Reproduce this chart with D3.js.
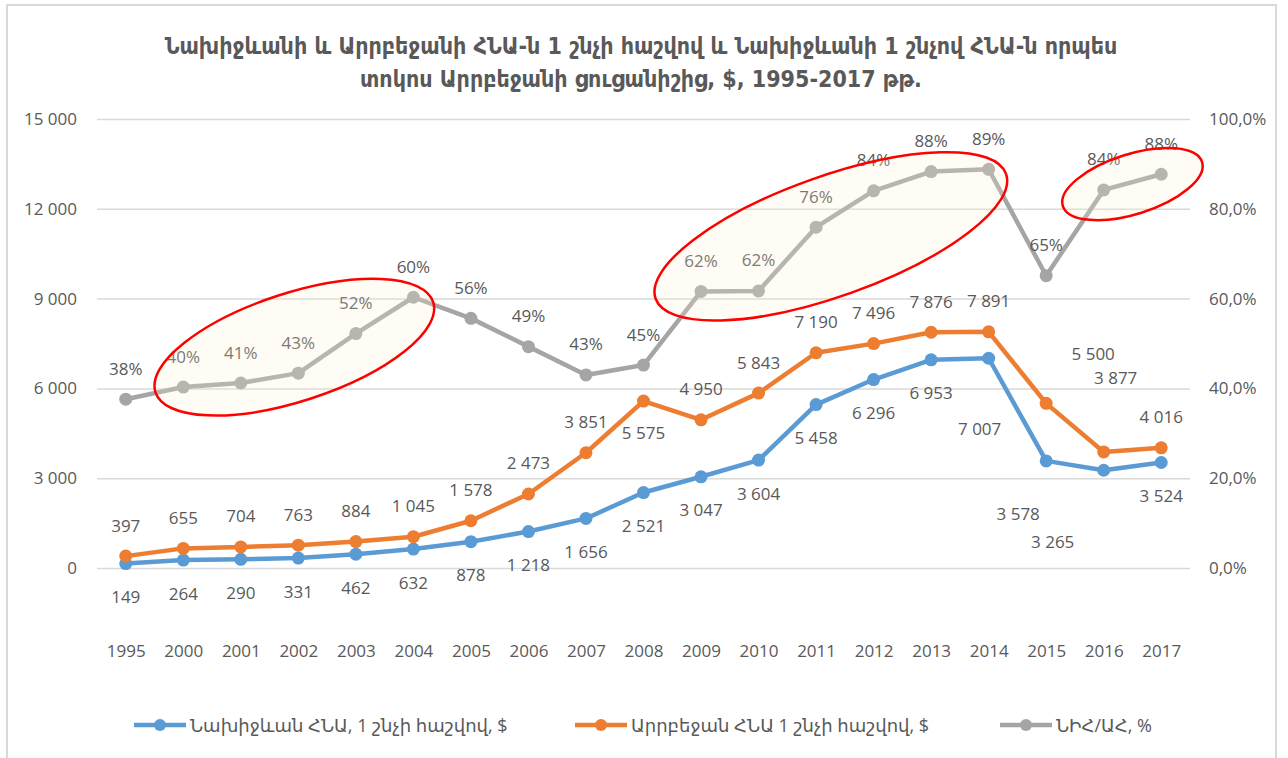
<!DOCTYPE html>
<html>
<head>
<meta charset="utf-8">
<script src="https://cdn.jsdelivr.net/npm/d3@7/dist/d3.min.js"></script>
<style>
  body { margin: 0; background: #fff; }
  svg { display: block; }
  text { font-family: "Open Sans", "DejaVu Sans", sans-serif; fill: #595959; }
</style>
</head>
<body>
<script>
// data
var years = ["1995", "2000", "2001", "2002", "2003", "2004", "2005", "2006", "2007", "2008",
             "2009", "2010", "2011", "2012", "2013", "2014", "2015", "2016", "2017"];
var nakhGdp = [149, 264, 290, 331, 462, 632, 878, 1218, 1656, 2521,
               3047, 3604, 5458, 6296, 6953, 7007, 3578, 3265, 3524];
var armGdp = [397, 655, 704, 763, 884, 1045, 1578, 2473, 3851, 5575,
              4950, 5843, 7190, 7496, 7876, 7891, 5500, 3877, 4016];
var ratioPct = [37.6, 40.3, 41.2, 43.4, 52.2, 60.3, 55.6, 49.3, 43.0, 45.2,
                61.6, 61.7, 75.9, 84.0, 88.3, 88.8, 65.1, 84.2, 87.7];
var leftTicks = [0, 3000, 6000, 9000, 12000, 15000];
var rightTicks = [0, 0.2, 0.4, 0.6, 0.8, 1.0];

var titleLines = ["Նախիջևանի և Արրբեջանի ՀՆԱ-ն 1 շնչի հաշվով և Նախիջևանի 1 շնչով ՀՆԱ-ն որպես",
                  "տոկոս Արրբեջանի ցուցանիշից, $, 1995-2017 թթ."];
var seriesNames = ["Նախիջևան ՀՆԱ, 1 շնչի հաշվով, $", "Արրբեջան ՀՆԱ 1 շնչի հաշվով, $", "ՆԻՀ/ԱՀ, %"];

var width = 1288, height = 758;
var margin = {top: 119, right: 98, bottom: 190, left: 97};

var svg = d3.select("body").append("svg")
  .attr("width", width)
  .attr("height", height);

// outer chart frame
svg.append("path")
  .attr("d", "M7,770 L7,5 L1276,5 L1276,770")
  .attr("fill", "none")
  .attr("stroke", "#d9d9d9")
  .attr("stroke-width", 2);

var locale = d3.formatLocale({decimal: ",", thousands: "\u00a0", grouping: [3], currency: ["", "$"]});
var fmtNum = locale.format(",.0f");
var fmtAxisPct = locale.format(".1%");
var fmtPct = locale.format(".0%");

var x = d3.scalePoint()
  .domain(years)
  .range([margin.left, width - margin.right])
  .padding(0.5);

var y = d3.scaleLinear()
  .domain([0, 15000])
  .range([height - margin.bottom, margin.top]);

var yPct = d3.scaleLinear()
  .domain([0, 1])
  .range([height - margin.bottom, margin.top]);

// gridlines
svg.append("g")
  .attr("transform", `translate(${margin.left},0)`)
  .call(d3.axisLeft(y).tickValues(leftTicks).tickSize(-(width - margin.left - margin.right)).tickFormat(""))
  .call(g => g.select(".domain").remove())
  .call(g => g.selectAll("line").attr("stroke", "#d9d9d9").attr("stroke-width", 1.5));

// left axis labels
svg.append("g")
  .attr("transform", `translate(${margin.left},0)`)
  .call(d3.axisLeft(y).tickValues(leftTicks).tickSize(0).tickPadding(20).tickFormat(fmtNum))
  .call(g => g.select(".domain").remove())
  .call(g => g.selectAll("text").style("font-size", "17px").attr("fill", "#595959").style("font-family", null));

// right axis labels
svg.append("g")
  .attr("transform", `translate(${width - margin.right},0)`)
  .call(d3.axisRight(yPct).tickValues(rightTicks).tickSize(0).tickPadding(19).tickFormat(fmtAxisPct))
  .call(g => g.select(".domain").remove())
  .call(g => g.selectAll("text").style("font-size", "17px").attr("fill", "#595959").style("font-family", null));

// category labels
svg.append("g")
  .attr("transform", `translate(0,${height - margin.bottom})`)
  .call(d3.axisBottom(x).tickSize(0).tickPadding(77))
  .call(g => g.select(".domain").remove())
  .call(g => g.selectAll("text").style("font-size", "17px").attr("fill", "#595959").style("font-family", null));

// title
svg.append("g").selectAll("text")
  .data(titleLines)
  .enter().append("text")
  .attr("x", 641)
  .attr("y", (d, i) => 54 + i * 33)
  .attr("text-anchor", "middle")
  .style("font-family", "'DejaVu Sans Condensed', 'DejaVu Sans', sans-serif")
  .style("font-weight", "bold")
  .style("font-size", "23px")
  .text(d => d);

var series = [
  {name: seriesNames[0], color: "#5b9bd5", values: nakhGdp, scale: y, fmt: fmtNum, dy: 33},
  {name: seriesNames[1], color: "#ed7d31", values: armGdp, scale: y, fmt: fmtNum, dy: -31},
  {name: seriesNames[2], color: "#a5a5a5", values: ratioPct.map(v => v / 100), scale: yPct, fmt: fmtPct, dy: -31}
];

// hand-moved labels in the original
var labelNudge = {
  "0-2014": [-9, 70], "0-2015": [-28, 53], "0-2016": [-51, 71],
  "1-2008": [0, 31], "1-2015": [47, -50], "1-2016": [12, -74]
};

series.forEach(function(s, si) {
  var pts = years.map((yr, i) => ({year: yr, value: s.values[i]}));
  var line = d3.line()
    .x(d => x(d.year))
    .y(d => s.scale(d.value));

  svg.append("path")
    .datum(pts)
    .attr("fill", "none")
    .attr("stroke", s.color)
    .attr("stroke-width", 4.5)
    .attr("stroke-linejoin", "round")
    .attr("d", line);

  svg.append("g").selectAll("circle")
    .data(pts)
    .enter().append("circle")
    .attr("cx", d => x(d.year))
    .attr("cy", d => s.scale(d.value))
    .attr("r", 6.5)
    .attr("fill", s.color);

  svg.append("g").selectAll("text")
    .data(pts)
    .enter().append("text")
    .attr("x", function(d) {
      var n = labelNudge[si + "-" + d.year];
      return x(d.year) + (n ? n[0] : 0);
    })
    .attr("y", function(d) {
      var n = labelNudge[si + "-" + d.year];
      return s.scale(d.value) + (n ? n[1] : s.dy);
    })
    .attr("text-anchor", "middle")
    .attr("dominant-baseline", "central")
    .style("font-size", "17px")
    .text(d => s.fmt(d.value));
});

// red highlight ellipses around the rising stretches of the ratio line
var highlights = [
  {from: "2000", to: "2004", dx: -4, dy: 5, angle: -18, rx: 146, ry: 54},
  {from: "2009", to: "2014", dx: -14, dy: 6, angle: -19.6, rx: 186, ry: 60},
  {from: "2016", to: "2017", dx: 0, dy: 2, angle: -17.5, rx: 73, ry: 30}
];

highlights.forEach(function(h) {
  var a = years.indexOf(h.from), b = years.indexOf(h.to);
  var cx = (x(h.from) + x(h.to)) / 2 + h.dx;
  var cy = (yPct(ratioPct[a] / 100) + yPct(ratioPct[b] / 100)) / 2 + h.dy;
  svg.append("ellipse")
    .attr("transform", `translate(${cx},${cy}) rotate(${h.angle})`)
    .attr("rx", h.rx)
    .attr("ry", h.ry)
    .attr("fill", "#fcf1d2")
    .attr("fill-opacity", 0.22)
    .attr("stroke", "#ff0000")
    .attr("stroke-width", 2.5);
});

// legend
var legendX = [134, 575, 1000];
var legend = svg.append("g").selectAll("g")
  .data(series)
  .enter().append("g")
  .attr("transform", (d, i) => `translate(${legendX[i]},725)`);

legend.append("line")
  .attr("x1", 0).attr("x2", 52)
  .attr("stroke", d => d.color)
  .attr("stroke-width", 4.5);

legend.append("circle")
  .attr("cx", 26)
  .attr("r", 6)
  .attr("fill", d => d.color);

legend.append("text")
  .attr("x", 56)
  .attr("dominant-baseline", "central")
  .style("font-size", "18px")
  .text(d => d.name);
</script>
</body>
</html>
